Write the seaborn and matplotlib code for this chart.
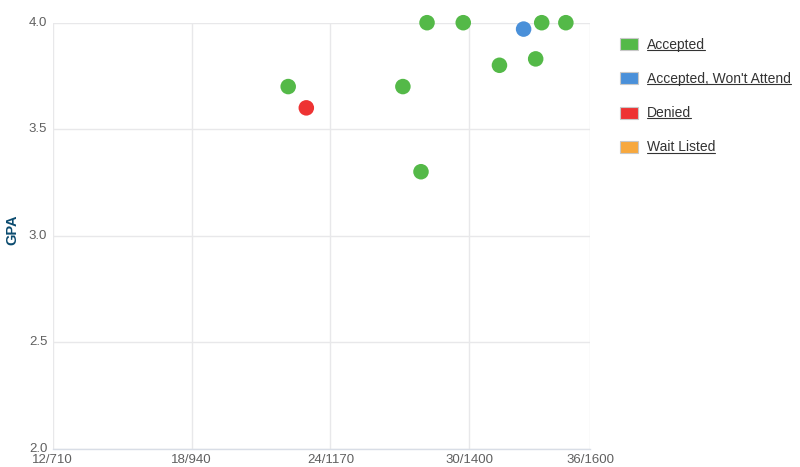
import matplotlib
matplotlib.use("Agg")
import matplotlib.pyplot as plt
from matplotlib.patches import Patch
import seaborn as sns
import pandas as pd

# Data (x = SAT-equivalent scale, y = GPA)
sat = [1100, 1130, 1290, 1320, 1330, 1390, 1450, 1490, 1510, 1520, 1560]
gpa = [3.70, 3.60, 3.70, 3.30, 4.00, 4.00, 3.80, 3.97, 3.83, 4.00, 4.00]
status = ["Accepted", "Denied", "Accepted", "Accepted", "Accepted", "Accepted",
          "Accepted", "Accepted, Won't Attend", "Accepted", "Accepted", "Accepted"]

categories = ["Accepted", "Accepted, Won't Attend", "Denied", "Wait Listed"]
colors = ["#54b948", "#4a90d9", "#ee3333", "#f7a83e"]

x_ticks = [710, 940, 1170, 1400, 1600]
x_tick_labels = ["12/710", "18/940", "24/1170", "30/1400", "36/1600"]
y_ticks = [2.0, 2.5, 3.0, 3.5, 4.0]
y_tick_labels = ["2.0", "2.5", "3.0", "3.5", "4.0"]

df = pd.DataFrame({"sat": sat, "gpa": gpa, "status": status})

sns.set_theme(style="white")
plt.rcParams["font.family"] = ["Liberation Sans", "DejaVu Sans"]

fig = plt.figure(figsize=(8.0, 4.67), dpi=100)
ax = fig.add_axes([0.066, 0.0396, 0.6715, 0.9118])

palette = dict(zip(categories, colors))
sns.scatterplot(data=df, x="sat", y="gpa", hue="status", hue_order=categories,
                palette=palette, s=125, edgecolor="none", legend=False,
                ax=ax, zorder=3, clip_on=False)

ax.set_xlim(x_ticks[0], x_ticks[-1])
ax.set_ylim(y_ticks[0], y_ticks[-1])
ax.set_xticks(x_ticks)
ax.set_xticklabels(x_tick_labels)
ax.set_yticks(y_ticks)
ax.set_yticklabels(y_tick_labels)
ax.grid(True, color="#e8e8ea", linewidth=1.0)
ax.set_axisbelow(True)
for side in ["top", "left", "right"]:
    ax.spines[side].set_visible(False)
ax.spines["bottom"].set_color("#d8dde6")
ax.spines["bottom"].set_linewidth(1.0)
ax.tick_params(axis="both", length=0, labelsize=9.5, labelcolor="#606060")
ax.tick_params(axis="x", pad=4)
ax.tick_params(axis="y", pad=4)
for lbl in ax.get_yticklabels():
    lbl.set_verticalalignment("center")
ax.set_xlabel("")
ax.set_ylabel("GPA", fontsize=10.5, fontweight="bold", color="#0b4b6f")
ax.yaxis.set_label_coords(-0.0615, 0.513)

handles = [Patch(facecolor=c, edgecolor="#c8c8c8", linewidth=0.8) for c in colors]
leg = fig.legend(handles, categories, loc="upper left", bbox_to_anchor=(0.775, 0.9186),
                 frameon=False, fontsize=10, labelcolor="#333333", borderpad=0,
                 borderaxespad=0, handlelength=1.3, handleheight=0.95,
                 handletextpad=0.65, labelspacing=1.45)

# underline legend labels
fig.canvas.draw()
renderer = fig.canvas.get_renderer()
inv = fig.transFigure.inverted()
for t in leg.get_texts():
    bb = t.get_window_extent(renderer)
    (x0, y0), (x1, y1) = inv.transform([[bb.x0, bb.y0], [bb.x1, bb.y1]])
    fig.add_artist(plt.Line2D([x0, x1], [y0 + 0.004, y0 + 0.004],
                              transform=fig.transFigure, color="#333333", linewidth=0.8))

fig.savefig("out.png", dpi=100)
